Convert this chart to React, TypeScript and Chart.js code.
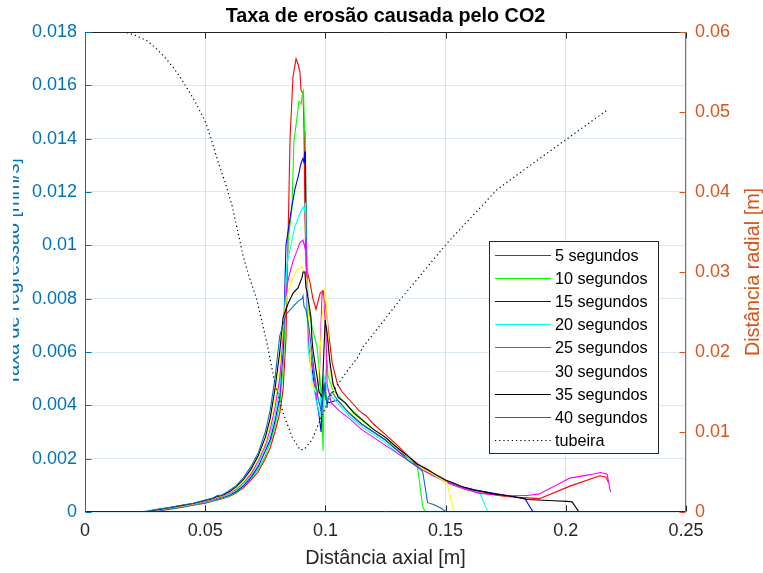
import { useEffect, useRef } from 'react';
import { Chart, registerables } from 'chart.js';

Chart.register(...registerables);

type Pt = [number, number];

const FONT = "'Liberation Sans', Arial, Helvetica, sans-serif";

const TITLE = 'Taxa de erosão causada pelo CO2';
const X_TITLE = 'Distância axial [m]';
const RATE_TITLE = 'Taxa de regressão [mm/s]';
const RADIUS_TITLE = 'Distância radial [m]';

const X_TICKS = [0, 0.05, 0.1, 0.15, 0.2, 0.25];
const X_TICK_LABELS = ['0', '0.05', '0.1', '0.15', '0.2', '0.25'];
const RATE_TICKS = [0, 0.002, 0.004, 0.006, 0.008, 0.01, 0.012, 0.014, 0.016, 0.018];
const RATE_TICK_LABELS = ['0', '0.002', '0.004', '0.006', '0.008', '0.01', '0.012', '0.014', '0.016', '0.018'];
const RADIUS_TICKS = [0, 0.01, 0.02, 0.03, 0.04, 0.05, 0.06];
const RADIUS_TICK_LABELS = ['0', '0.01', '0.02', '0.03', '0.04', '0.05', '0.06'];

const SERIES_LABELS = ['5 segundos', '10 segundos', '15 segundos', '20 segundos', '25 segundos', '30 segundos', '35 segundos', '40 segundos'];
const SERIES_COLORS = ['#FF0000', '#00FF00', '#0000FF', '#00FFFF', '#FF00FF', '#FFFF00', '#000000', '#0072BD'];
const NOZZLE_LABEL = 'tubeira';

// shared axial stations for the slow build-up ahead of the throat
const RISE_X = [0, 0.022, 0.026, 0.03, 0.035, 0.04, 0.045, 0.05, 0.053, 0.055, 0.057, 0.06, 0.063, 0.066, 0.069, 0.072, 0.075, 0.077, 0.079, 0.081];
const RISE_05 = [0, 0, 0, 0.00004, 0.0001, 0.00017, 0.00025, 0.00033, 0.0004, 0.00045, 0.0005, 0.00058, 0.00072, 0.00092, 0.0012, 0.0015, 0.002, 0.0024, 0.003, 0.0037];
const RISE_10 = [0, 0, 0, 0.00005, 0.00011, 0.00018, 0.00026, 0.00034, 0.00041, 0.00046, 0.00052, 0.0006, 0.00075, 0.00096, 0.00125, 0.0016, 0.0021, 0.0026, 0.0032, 0.004];
const RISE_15 = [0, 0, 0, 0.00005, 0.00012, 0.00019, 0.00027, 0.00036, 0.00043, 0.00048, 0.00054, 0.00063, 0.00078, 0.001, 0.0013, 0.0017, 0.0023, 0.0027, 0.0034, 0.0043];
const RISE_20 = [0, 0, 0, 0.00006, 0.00013, 0.0002, 0.00028, 0.00037, 0.00044, 0.0005, 0.00056, 0.00066, 0.00082, 0.00105, 0.00137, 0.0018, 0.0024, 0.0029, 0.0036, 0.0046];
const RISE_25 = [0, 0, 0.00001, 0.00007, 0.00014, 0.00021, 0.00029, 0.00039, 0.00046, 0.00052, 0.00058, 0.0007, 0.00086, 0.00111, 0.00143, 0.0019, 0.0025, 0.0031, 0.0039, 0.005];
const RISE_30 = [0, 0, 0.00002, 0.00008, 0.00015, 0.00022, 0.0003, 0.00041, 0.00048, 0.00055, 0.0006, 0.00073, 0.0009, 0.00117, 0.0015, 0.002, 0.0026, 0.0033, 0.0042, 0.0055];
const RISE_35 = [0, 0, 0.00003, 0.00009, 0.00016, 0.00024, 0.00032, 0.00043, 0.0005, 0.00058, 0.00062, 0.00076, 0.00095, 0.00123, 0.0016, 0.0021, 0.0028, 0.0035, 0.0046, 0.006];
const RISE_40 = [0, 0, 0.00004, 0.0001, 0.00017, 0.00025, 0.00033, 0.00045, 0.00052, 0.00062, 0.00064, 0.0008, 0.001, 0.0013, 0.0017, 0.0022, 0.003, 0.0038, 0.005, 0.0066];

// throat peak and downstream tail, [axial position, rate]
const TAIL_05: Pt[] = [
  [0.0824, 0.0046], [0.0836, 0.0065], [0.0844, 0.01], [0.0853, 0.014], [0.0865, 0.0163], [0.0878, 0.017],
  [0.0886, 0.0168], [0.0894, 0.0165], [0.0899, 0.0158], [0.0907, 0.0157], [0.0911, 0.0143], [0.0915, 0.011],
  [0.092, 0.0092], [0.0936, 0.0086], [0.0948, 0.008], [0.0961, 0.0076], [0.0978, 0.0082], [0.099, 0.0083],
  [0.1003, 0.0076], [0.1015, 0.0066], [0.1028, 0.0056], [0.105, 0.0048], [0.107, 0.0045], [0.11, 0.0042],
  [0.114, 0.0038], [0.117, 0.0036], [0.12, 0.0033], [0.125, 0.0029], [0.13, 0.0025], [0.135, 0.00205],
  [0.14, 0.0017], [0.145, 0.0014], [0.15, 0.00112], [0.155, 0.00095], [0.158, 0.00085], [0.164, 0.00072],
  [0.175, 0.00058], [0.184, 0.00053], [0.189, 0.0005], [0.2017, 0.00097], [0.2142, 0.00136], [0.2168, 0.0013],
  [0.2178, 0.0011],
];
const TAIL_10: Pt[] = [
  [0.0825, 0.0055], [0.0838, 0.0085], [0.0845, 0.0102], [0.0861, 0.0114], [0.0869, 0.0139], [0.0882, 0.0148],
  [0.089, 0.0154], [0.0899, 0.0153], [0.0905, 0.0157], [0.0909, 0.0158], [0.0912, 0.0147], [0.0916, 0.0138],
  [0.0922, 0.0102], [0.0928, 0.0077], [0.0948, 0.0068], [0.0965, 0.0062], [0.0978, 0.005], [0.0986, 0.0036],
  [0.099, 0.0023], [0.0994, 0.0042], [0.1007, 0.0057], [0.1011, 0.0051], [0.103, 0.0046], [0.105, 0.0044],
  [0.11, 0.0039], [0.115, 0.0035], [0.12, 0.0031], [0.125, 0.0028], [0.13, 0.0024], [0.135, 0.002],
  [0.1383, 0.0017], [0.1405, 0.0002], [0.1415, 0], [0.2185, 0],
];
const TAIL_15: Pt[] = [
  [0.0825, 0.0062], [0.0836, 0.01], [0.086, 0.01144], [0.0873, 0.0121], [0.089, 0.0127], [0.0894, 0.0129],
  [0.0899, 0.01309], [0.0907, 0.01327], [0.0911, 0.0131], [0.0913, 0.01346], [0.0917, 0.0135], [0.092, 0.0095],
  [0.0925, 0.0075], [0.0932, 0.0062], [0.094, 0.0057], [0.0953, 0.0048], [0.0961, 0.0043], [0.0974, 0.0036],
  [0.0982, 0.003], [0.0986, 0.0039], [0.0994, 0.0048], [0.1003, 0.0042], [0.1015, 0.0041], [0.105, 0.0042],
  [0.11, 0.0037], [0.115, 0.0033], [0.12, 0.003], [0.125, 0.0027], [0.13, 0.0023], [0.135, 0.002],
  [0.14, 0.0016], [0.145, 0.00138], [0.15, 0.00116], [0.155, 0.00098], [0.162, 0.00083], [0.17, 0.0007],
  [0.178, 0.00058], [0.183, 0.0005], [0.1864, 0], [0.2185, 0],
];
const TAIL_20: Pt[] = [
  [0.0825, 0.0068], [0.084, 0.0093], [0.0861, 0.0102], [0.0873, 0.0107], [0.0894, 0.0112], [0.0907, 0.01144],
  [0.0913, 0.0113], [0.0917, 0.0116], [0.0921, 0.0085], [0.0928, 0.0061], [0.0944, 0.0051], [0.0961, 0.0042],
  [0.0969, 0.0039], [0.0978, 0.0036], [0.0982, 0.0045], [0.0994, 0.0051], [0.1007, 0.0046], [0.103, 0.0043],
  [0.105, 0.0041], [0.11, 0.0036], [0.115, 0.0032], [0.12, 0.0029], [0.125, 0.0026], [0.13, 0.0022],
  [0.135, 0.0019], [0.14, 0.0016], [0.145, 0.00135], [0.15, 0.00114], [0.155, 0.00097], [0.16, 0.00084],
  [0.1643, 0.0007], [0.1676, 0], [0.2185, 0],
];
const TAIL_25: Pt[] = [
  [0.0825, 0.0068], [0.084, 0.0085], [0.0853, 0.009], [0.0865, 0.0094], [0.0882, 0.0098], [0.0894, 0.0101],
  [0.0907, 0.0102], [0.0915, 0.0099], [0.0919, 0.0103], [0.0925, 0.0075], [0.0932, 0.0064], [0.0953, 0.0051],
  [0.0965, 0.0043], [0.0974, 0.0048], [0.0986, 0.0082], [0.099, 0.0083], [0.1003, 0.0067], [0.1007, 0.0048],
  [0.1024, 0.0041], [0.1057, 0.0038], [0.11, 0.0035], [0.115, 0.0031], [0.12, 0.0028], [0.125, 0.0025],
  [0.13, 0.0022], [0.135, 0.0019], [0.14, 0.0016], [0.145, 0.00135], [0.15, 0.00115], [0.155, 0.00098],
  [0.164, 0.0007], [0.175, 0.00063], [0.184, 0.00062], [0.189, 0.00068], [0.2017, 0.00127], [0.21, 0.0014],
  [0.2145, 0.00148], [0.2172, 0.00142], [0.2186, 0.00075],
];
const TAIL_30: Pt[] = [
  [0.0827, 0.0073], [0.084, 0.0081], [0.0861, 0.0087], [0.0882, 0.0091], [0.0903, 0.0092], [0.0911, 0.009],
  [0.0923, 0.0087], [0.0928, 0.0075], [0.0936, 0.0061], [0.0944, 0.0047], [0.0948, 0.0048], [0.0961, 0.0045],
  [0.0974, 0.0054], [0.0986, 0.0073], [0.0999, 0.0084], [0.1007, 0.0073], [0.1019, 0.0053], [0.104, 0.0043],
  [0.108, 0.0039], [0.115, 0.0034], [0.12, 0.0031], [0.125, 0.0028], [0.13, 0.0024], [0.135, 0.002],
  [0.14, 0.00165], [0.145, 0.0014], [0.1505, 0.0011], [0.1535, 0], [0.2185, 0],
];
const TAIL_35: Pt[] = [
  [0.0824, 0.0073], [0.0844, 0.0078], [0.0865, 0.0082], [0.0886, 0.0084], [0.0903, 0.0088], [0.0907, 0.009],
  [0.0915, 0.009], [0.0919, 0.0084], [0.0923, 0.0083], [0.094, 0.0073], [0.0944, 0.0065], [0.0948, 0.0061],
  [0.0965, 0.0051], [0.0974, 0.0045], [0.0986, 0.0043], [0.0999, 0.0072], [0.1007, 0.0067], [0.1019, 0.0056],
  [0.1032, 0.0048], [0.1053, 0.0043], [0.1082, 0.0041], [0.112, 0.0037], [0.116, 0.0034], [0.12, 0.0031],
  [0.125, 0.0028], [0.13, 0.0024], [0.135, 0.00205], [0.138, 0.0018], [0.142, 0.00162], [0.146, 0.0014],
  [0.15, 0.0012], [0.153, 0.0011], [0.157, 0.00095], [0.162, 0.00082], [0.17, 0.00068], [0.178, 0.00058],
  [0.184, 0.00047], [0.195, 0.00042], [0.2005, 0.0004], [0.2026, 0.00038], [0.2055, 0], [0.2185, 0],
];
const TAIL_40: Pt[] = [
  [0.0836, 0.0074], [0.0865, 0.0077], [0.0886, 0.0079], [0.0903, 0.008], [0.0907, 0.0081], [0.0911, 0.0077],
  [0.0919, 0.0076], [0.0932, 0.0069], [0.0944, 0.006], [0.0957, 0.005], [0.0969, 0.0043], [0.0982, 0.0038],
  [0.099, 0.0045], [0.0999, 0.0048], [0.1007, 0.0039], [0.1011, 0.0043], [0.1028, 0.0045], [0.105, 0.0042],
  [0.11, 0.0037], [0.115, 0.0033], [0.12, 0.003], [0.125, 0.0027], [0.13, 0.0023], [0.135, 0.0019],
  [0.1395, 0.0016], [0.1405, 0.0015], [0.1425, 0.00035], [0.145, 0.00028], [0.148, 0.00015], [0.15, 0.00002],
  [0.151, 0], [0.2185, 0],
];

// nozzle wall contour, [axial position, radius]
const NOZZLE: Pt[] = [
  [0, 0.06], [0.0166, 0.06], [0.0208, 0.0596], [0.0258, 0.0589], [0.0291, 0.0581], [0.0333, 0.0568],
  [0.0366, 0.0556], [0.0395, 0.0544], [0.0424, 0.053], [0.0458, 0.0513], [0.0487, 0.0496], [0.0503, 0.0486],
  [0.0528, 0.0463], [0.0553, 0.0438], [0.0582, 0.0413], [0.0611, 0.0384], [0.0636, 0.035], [0.0657, 0.0321],
  [0.0678, 0.0299], [0.0715, 0.0265], [0.0757, 0.0211], [0.079, 0.0161], [0.0824, 0.0124], [0.0861, 0.0094],
  [0.0894, 0.0078], [0.0911, 0.0078], [0.0944, 0.009], [0.0978, 0.0115], [0.1019, 0.0144], [0.1073, 0.0169],
  [0.1136, 0.0194], [0.1156, 0.0206], [0.131, 0.0265], [0.1506, 0.0336], [0.1714, 0.0403], [0.1864, 0.0436],
  [0.2017, 0.0469], [0.2175, 0.0503],
];

const RISES = [RISE_05, RISE_10, RISE_15, RISE_20, RISE_25, RISE_30, RISE_35, RISE_40];
const TAILS = [TAIL_05, TAIL_10, TAIL_15, TAIL_20, TAIL_25, TAIL_30, TAIL_35, TAIL_40];

const RATE_COLOR = '#0072BD';
const RADIUS_COLOR = '#D95319';
const AXIS_COLOR = '#262626';
const NOZZLE_DASH = [1.2, 3];

const toPoints = (pts: Pt[]) => pts.map(([x, y]) => ({ x, y }));

const decorations = {
  id: 'decorations',
  afterDraw(chart: any) {
    const { ctx, chartArea: a, scales } = chart;
    const L = Math.round(a.left) + 0.5;
    const R = Math.round(a.right) - 0.5;
    const T = Math.round(a.top) + 0.5;
    const B = Math.round(a.bottom) - 0.5;
    const seg = (x1: number, y1: number, x2: number, y2: number) => {
      ctx.beginPath();
      ctx.moveTo(x1, y1);
      ctx.lineTo(x2, y2);
      ctx.stroke();
    };
    ctx.save();
    ctx.lineWidth = 1;
    ctx.setLineDash([]);

    // box and inward ticks
    ctx.strokeStyle = AXIS_COLOR;
    seg(L, B, R, B);
    seg(L, T, R, T);
    X_TICKS.forEach((v) => {
      const px = Math.round(scales.x.getPixelForValue(v)) + 0.5;
      seg(px, B, px, B - 6);
      seg(px, T, px, T + 6);
    });
    ctx.strokeStyle = RATE_COLOR;
    seg(L, T, L, B);
    RATE_TICKS.forEach((v) => {
      const py = Math.round(scales.y.getPixelForValue(v)) + 0.5;
      seg(L, py, L + 6, py);
    });
    ctx.strokeStyle = RADIUS_COLOR;
    seg(R, T, R, B);
    RADIUS_TICKS.forEach((v) => {
      const py = Math.round(scales.y1.getPixelForValue(v)) + 0.5;
      seg(R, py, R - 6, py);
    });

    // titles
    ctx.textAlign = 'center';
    ctx.textBaseline = 'alphabetic';
    ctx.fillStyle = '#000000';
    ctx.font = `bold 19.8px ${FONT}`;
    ctx.fillText(TITLE, (a.left + a.right) / 2, 22);
    ctx.fillStyle = AXIS_COLOR;
    ctx.font = `19.8px ${FONT}`;
    ctx.fillText(X_TITLE, (a.left + a.right) / 2, 564);

    const midY = (a.top + a.bottom) / 2;
    ctx.save();
    ctx.beginPath();
    ctx.rect(13, 0, 100, chart.height);
    ctx.clip();
    ctx.translate(19, midY);
    ctx.rotate(-Math.PI / 2);
    ctx.fillStyle = RATE_COLOR;
    ctx.fillText(RATE_TITLE, 0, 0);
    ctx.restore();

    ctx.save();
    ctx.translate(759, midY);
    ctx.rotate(-Math.PI / 2);
    ctx.fillStyle = RADIUS_COLOR;
    ctx.fillText(RADIUS_TITLE, 0, 0);
    ctx.restore();

    // legend
    const bx = 489.5, by = 241.5, bw = 169, bh = 212;
    ctx.fillStyle = '#FFFFFF';
    ctx.fillRect(bx, by, bw, bh);
    ctx.strokeStyle = AXIS_COLOR;
    ctx.strokeRect(bx, by, bw, bh);
    const labels = [...SERIES_LABELS, NOZZLE_LABEL];
    const colors = [...SERIES_COLORS, '#000000'];
    ctx.font = `16.2px ${FONT}`;
    ctx.textAlign = 'left';
    ctx.textBaseline = 'middle';
    labels.forEach((lab, i) => {
      const y = Math.round(255 + i * 23.1) + 0.5;
      ctx.strokeStyle = colors[i];
      ctx.lineWidth = 1.1;
      ctx.setLineDash(i === labels.length - 1 ? NOZZLE_DASH : []);
      seg(495, y, 551, y);
      ctx.setLineDash([]);
      ctx.fillStyle = '#000000';
      ctx.fillText(lab, 555, y + 1);
    });
    ctx.restore();
  },
};

export default function App() {
  const canvasRef = useRef<HTMLCanvasElement | null>(null);

  useEffect(() => {
    if (!canvasRef.current) return;
    const datasets: any[] = SERIES_LABELS.map((label, k) => ({
      label,
      data: [
        ...RISE_X.map((x, i) => ({ x, y: RISES[k][i] })),
        ...toPoints(TAILS[k]),
      ],
      borderColor: SERIES_COLORS[k],
      borderWidth: 1.1,
      pointRadius: 0,
      tension: 0,
      yAxisID: 'y',
      order: 8 - k,
    }));
    datasets.push({
      label: NOZZLE_LABEL,
      data: toPoints(NOZZLE),
      borderColor: '#000000',
      borderWidth: 1.2,
      borderDash: NOZZLE_DASH,
      pointRadius: 0,
      tension: 0,
      yAxisID: 'y1',
      order: 0,
    });

    const chart = new Chart(canvasRef.current, {
      type: 'line',
      data: { datasets },
      plugins: [decorations],
      options: {
        animation: false,
        responsive: false,
        devicePixelRatio: 1,
        layout: { padding: { top: 32, left: 0, right: 0, bottom: 0 } },
        plugins: { legend: { display: false }, title: { display: false }, tooltip: { enabled: false } },
        scales: {
          x: {
            type: 'linear',
            min: 0,
            max: 0.25,
            afterBuildTicks: (s: any) => { s.ticks = X_TICKS.map((value) => ({ value })); },
            afterFit: (s: any) => { s.height = 61; },
            border: { display: false },
            grid: { color: 'rgba(38,38,38,0.15)', drawTicks: false },
            ticks: {
              autoSkip: false,
              maxRotation: 0,
              padding: 8,
              color: AXIS_COLOR,
              font: { family: FONT, size: 18 },
              callback: (_v: any, i: number) => X_TICK_LABELS[i],
            },
          },
          y: {
            type: 'linear',
            position: 'left',
            min: 0,
            max: 0.018,
            afterBuildTicks: (s: any) => { s.ticks = RATE_TICKS.map((value) => ({ value })); },
            afterFit: (s: any) => { s.width = 85; },
            border: { display: false },
            grid: { color: 'rgba(0,114,189,0.15)', drawTicks: false },
            ticks: {
              autoSkip: false,
              padding: 8,
              color: RATE_COLOR,
              font: { family: FONT, size: 18 },
              callback: (_v: any, i: number) => RATE_TICK_LABELS[i],
            },
          },
          y1: {
            type: 'linear',
            position: 'right',
            min: 0,
            max: 0.06,
            afterBuildTicks: (s: any) => { s.ticks = RADIUS_TICKS.map((value) => ({ value })); },
            afterFit: (s: any) => { s.width = 77; },
            border: { display: false },
            grid: { display: false, drawTicks: false },
            ticks: {
              autoSkip: false,
              padding: 9,
              color: RADIUS_COLOR,
              font: { family: FONT, size: 18 },
              callback: (_v: any, i: number) => RADIUS_TICK_LABELS[i],
            },
          },
        },
      } as any,
    });
    return () => chart.destroy();
  }, []);

  return (
    <div style={{ position: 'fixed', left: 0, top: 0, width: 763, height: 573, background: '#FFFFFF' }}>
      <canvas ref={canvasRef} width={763} height={573} style={{ display: 'block' }} />
    </div>
  );
}
